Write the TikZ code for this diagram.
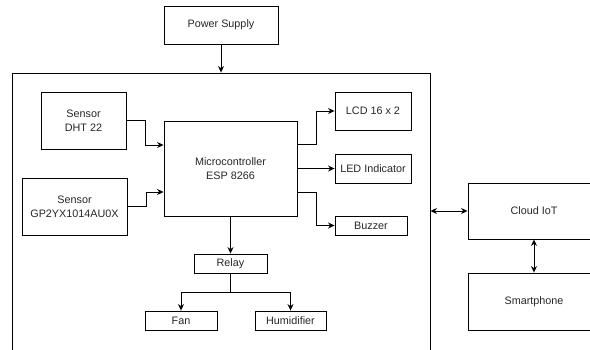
\documentclass[tikz,border=0pt]{standalone}
\usepackage{fontspec}
\setmainfont{Liberation Sans}
\usetikzlibrary{arrows.meta,calc}
\begin{document}
\begin{tikzpicture}[x=1pt,y=-1pt,
  box/.style={draw=black,line width=0.9pt,inner sep=0pt,align=center,
    font=\fontsize{10.8}{14}\selectfont,text=black!85},
  arr/.style={draw=black,line width=0.9pt,-{Stealth[length=6.5pt,width=6pt]}},
  darr/.style={draw=black,line width=0.9pt,{Stealth[length=6.5pt,width=6pt]}-{Stealth[length=6.5pt,width=6pt]}}]
\useasboundingbox (0,0) rectangle (590,349);
\node[box,minimum width=418pt,minimum height=287pt] (frame) at (221,216.5) {};
\node[box,minimum width=114pt,minimum height=38pt] (power) at (221,25) {Power Supply};
\node[box,minimum width=85pt,minimum height=57pt] (dht) at (83.5,120.5) {Sensor\\DHT 22};
\node[box,minimum width=105pt,minimum height=57pt] (gp) at (74.5,206.5) {Sensor\\GP2YX1014AU0X};
\node[box,minimum width=133pt,minimum height=95pt] (mcu) at (230.5,168.5) {Microcontroller\\ESP 8266};
\node[box,minimum width=76pt,minimum height=38pt] (lcd) at (373,111) {LCD 16 x 2};
\node[box,minimum width=76pt,minimum height=29pt] (led) at (373,168.5) {LED Indicator};
\node[box,minimum width=72pt,minimum height=19pt] (buzzer) at (371,225.5) {Buzzer};
\node[box,minimum width=73pt,minimum height=19pt] (relay) at (230.5,263.5) {Relay};
\node[box,minimum width=72pt,minimum height=19pt] (fan) at (181,320.5) {Fan};
\node[box,minimum width=71pt,minimum height=19pt] (hum) at (290.5,320.5) {Humidifier};
\node[box,minimum width=132pt,minimum height=56pt] (cloud) at (534,211) {Cloud IoT};
\node[box,minimum width=132pt,minimum height=57pt] (phone) at (534,301.5) {Smartphone};
\draw[arr] (power) -- (frame.north);
\draw[arr] (dht.east) -- ++(19,0) |- ([yshift=23.5pt]mcu.west);
\draw[arr] (gp.east) -- ++(19,0) |- ([yshift=-23.5pt]mcu.west);
\draw[arr] ([yshift=24.5pt]mcu.east) -- ++(19,0) |- (lcd.west);
\draw[arr] (mcu.east) -- (led.west);
\draw[arr] ([yshift=-23.5pt]mcu.east) -- ++(19,0) |- (buzzer.west);
\draw[arr] (mcu.south) -- (relay.north);
\draw[arr] (relay.south) -- ++(0,19) -| (fan.north);
\draw[arr] (relay.south) -- ++(0,19) -| (hum.north);
\draw[darr] (cloud.west -| frame.east) -- (cloud.west);
\draw[darr] (cloud.south) -- (phone.north);
\end{tikzpicture}
\end{document}
